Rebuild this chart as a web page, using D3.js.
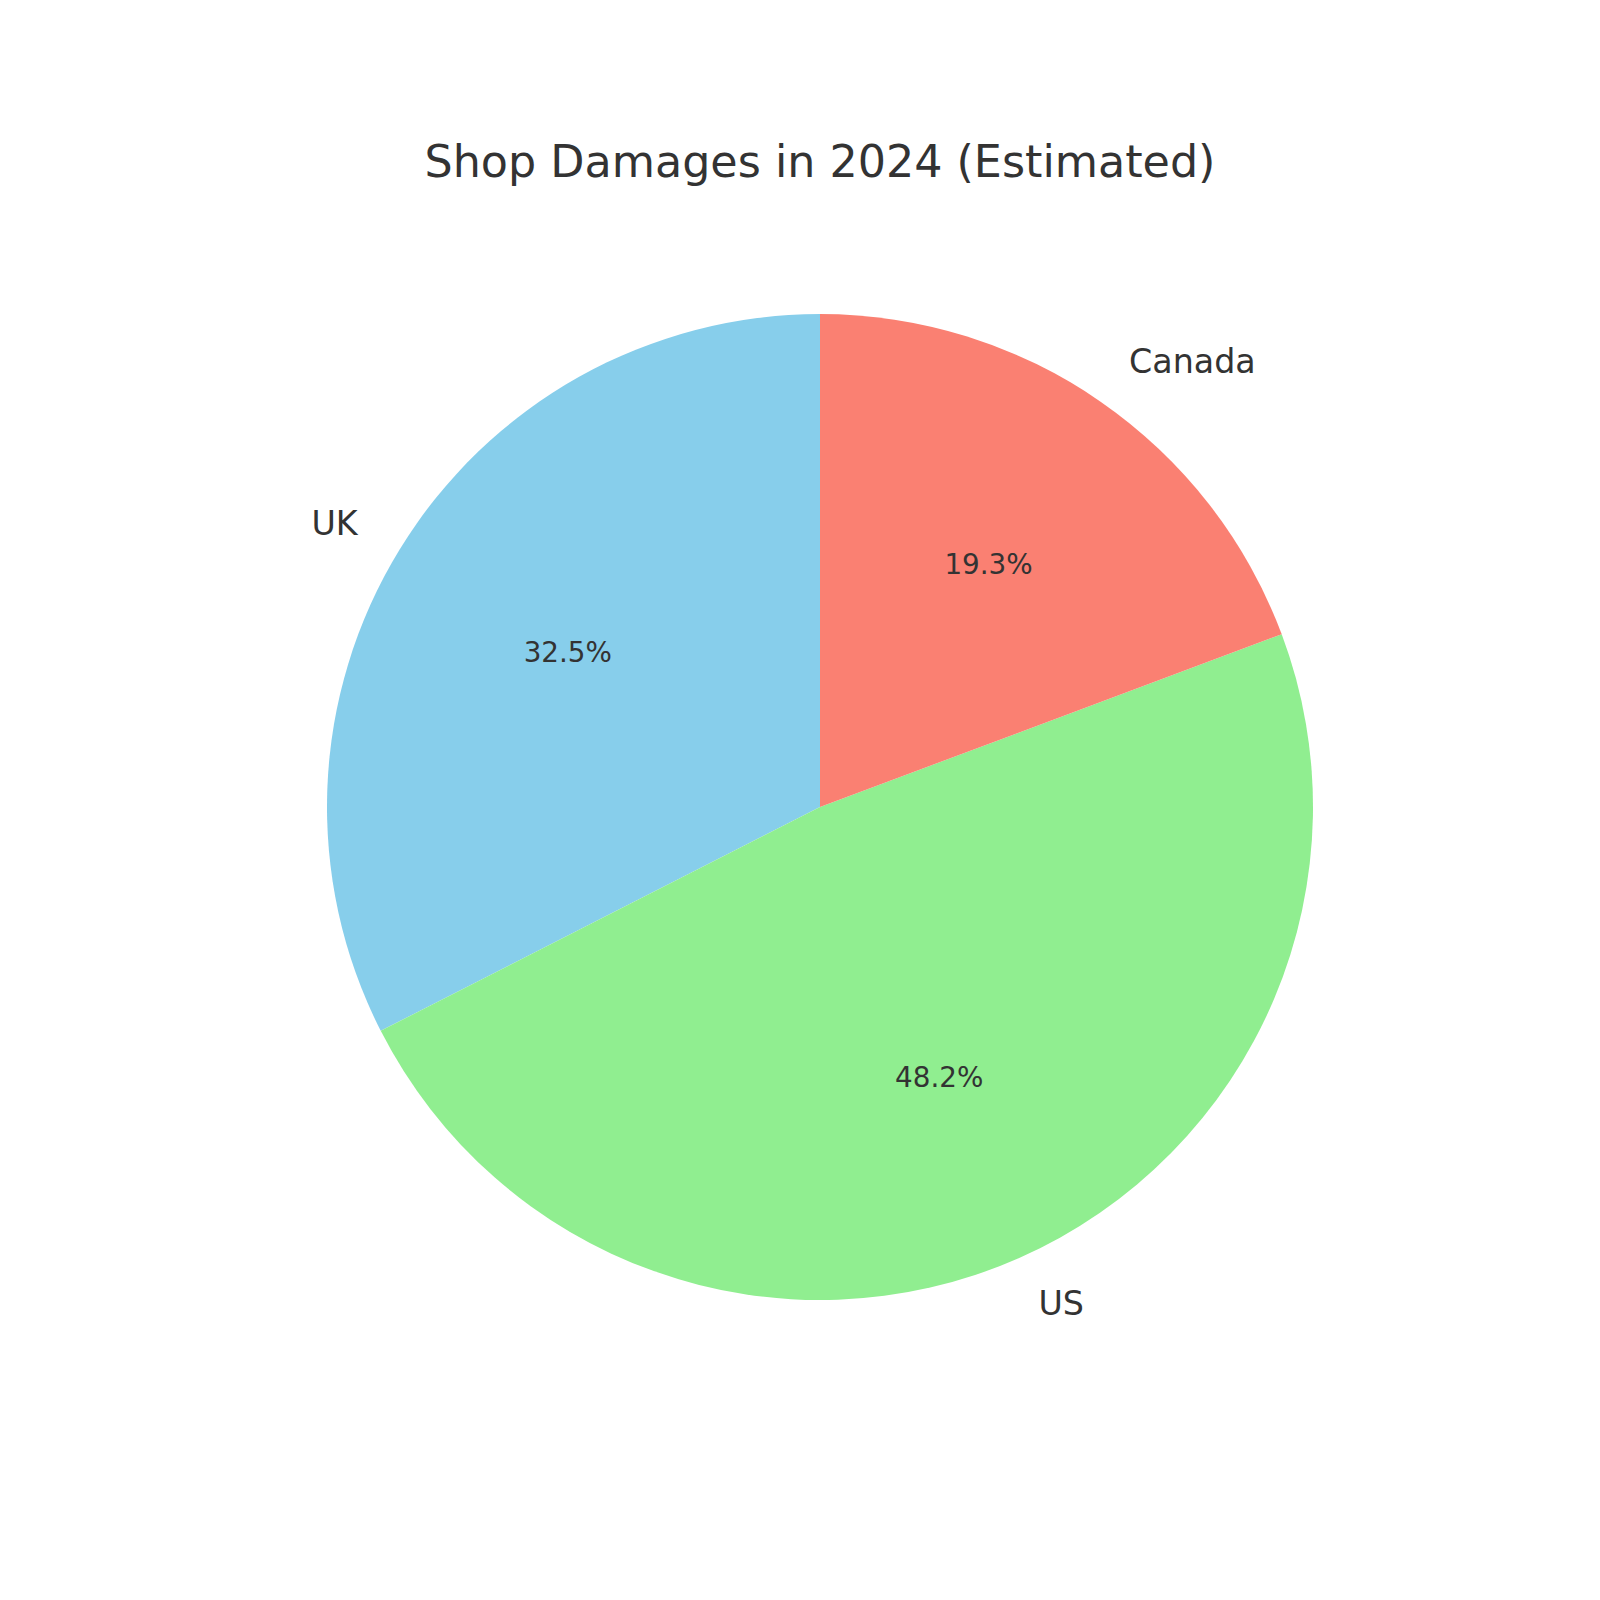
<!DOCTYPE html>
<html>
<head>
<meta charset="utf-8">
<script src="https://cdn.jsdelivr.net/npm/d3@7"></script>
<style>
  body { margin: 0; background: #fff; }
  text { font-family: "DejaVu Sans", sans-serif; fill: #333333; }
</style>
</head>
<body>
<div id="chart"></div>
<script>
'use strict';

// chart data
var categories = ['UK', 'US', 'Canada'];
var damages = [32.5, 48.2, 19.3];
var colors = ['#87CEEB', '#90EE90', '#FA8072'];
var title = 'Shop Damages in 2024 (Estimated)';

var width = 1600, height = 1600;
var cx = 820, cy = 807, radius = 493;

var svg = d3.select('#chart')
  .append('svg')
  .attr('width', width)
  .attr('height', height);

svg.append('text')
  .attr('x', cx)
  .attr('y', 177)
  .attr('text-anchor', 'middle')
  .attr('font-size', 44.4)
  .text(title);

var total = d3.sum(damages);
var data = categories.map(function (c, i) {
  return { name: c, value: damages[i], color: colors[i] };
});

// counterclockwise from 12 o'clock, like matplotlib startangle=90
var pie = d3.pie()
  .sort(null)
  .value(function (d) { return d.value; })
  .startAngle(0)
  .endAngle(-2 * Math.PI);

var arc = d3.arc().innerRadius(0).outerRadius(radius);

var g = svg.append('g')
  .attr('transform', 'translate(' + cx + ',' + cy + ')');

var slices = pie(data);

g.selectAll('path')
  .data(slices)
  .enter()
  .append('path')
  .attr('d', arc)
  .attr('fill', function (d) { return d.data.color; });

var midAngle = function (d) { return (d.startAngle + d.endAngle) / 2; };

g.selectAll('text.label')
  .data(slices)
  .enter()
  .append('text')
  .attr('class', 'label')
  .attr('x', function (d) { return 1.1 * radius * Math.sin(midAngle(d)); })
  .attr('y', function (d) { return -1.1 * radius * Math.cos(midAngle(d)); })
  .attr('dy', '0.35em')
  .attr('text-anchor', function (d) { return Math.sin(midAngle(d)) < 0 ? 'end' : 'start'; })
  .attr('font-size', 33.3)
  .text(function (d) { return d.data.name; });

g.selectAll('text.pct')
  .data(slices)
  .enter()
  .append('text')
  .attr('class', 'pct')
  .attr('x', function (d) { return 0.6 * radius * Math.sin(midAngle(d)); })
  .attr('y', function (d) { return -0.6 * radius * Math.cos(midAngle(d)); })
  .attr('dy', '0.35em')
  .attr('text-anchor', 'middle')
  .attr('font-size', 27.8)
  .text(function (d) { return (d.data.value / total * 100).toFixed(1) + '%'; });
</script>
</body>
</html>
